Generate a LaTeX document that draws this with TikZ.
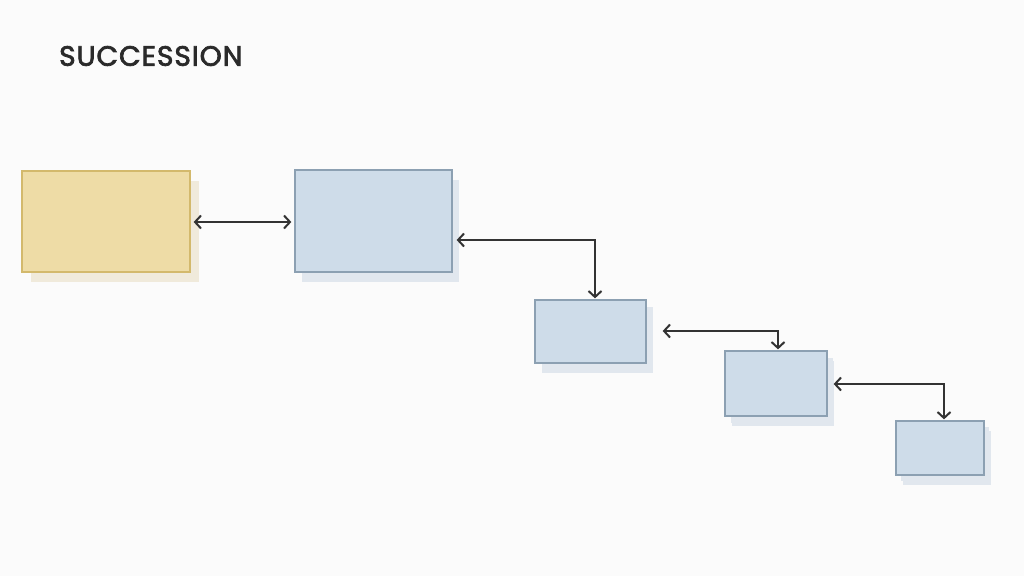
\documentclass[tikz,border=0pt]{standalone}
\usepackage{fontspec}
\setmainfont{Poppins}
\newfontfamily\titlefont{Poppins}[FakeBold=2.5, LetterSpace=3.5]
\usetikzlibrary{arrows.meta,shadows,calc}
\definecolor{bg}{HTML}{FBFBFB}
\definecolor{yfill}{HTML}{EEDCA6}
\definecolor{ydraw}{HTML}{D3B96C}
\definecolor{yshadow}{HTML}{F0EADB}
\definecolor{bfill}{HTML}{CEDCE9}
\definecolor{bdraw}{HTML}{8CA0B2}
\definecolor{bshadow}{HTML}{E1E7EE}
\definecolor{ink}{HTML}{333333}
\definecolor{titlec}{HTML}{2A2A2A}
\tikzset{
  ybox/.style={draw=ydraw, fill=yfill, line width=1.3pt, inner sep=0pt,
    drop shadow={shadow xshift=9pt, shadow yshift=-10pt, fill=yshadow, opacity=1}},
  bbox/.style={draw=bdraw, fill=bfill, line width=1.3pt, inner sep=0pt,
    drop shadow={shadow xshift=7pt, shadow yshift=-10pt, fill=bshadow, opacity=1}},
  conn/.style={draw=ink, line width=2pt,
    arrows={Straight Barb[length=6pt,width=13pt,line width=2pt]-Straight Barb[length=6pt,width=13pt,line width=2pt]}}
}
\begin{document}
\begin{tikzpicture}[x=1pt,y=-1pt]
\fill[bg] (0,0) rectangle (1024,576);
\useasboundingbox (0,0) rectangle (1024,576);
\node[anchor=west, text=titlec, font=\titlefont\fontsize{28}{33}\selectfont, inner sep=0pt] (title) at (59,56) {SUCCESSION};
\node[ybox, minimum width=168pt, minimum height=101pt] (A) at (106,221.5) {};
\node[bbox, minimum width=157pt, minimum height=102pt] (B) at (373.5,221) {};
\node[bbox, minimum width=111pt, minimum height=63pt, drop shadow={shadow xshift=7pt, shadow yshift=-7pt, fill=bshadow, opacity=1}] (C) at (590.5,331.5) {};
\node[bbox, minimum width=102pt, minimum height=65pt, drop shadow={shadow xshift=6pt, shadow yshift=-7pt, fill=bshadow, opacity=1}] (D) at (776,383.5) {};
\node[bbox, minimum width=88pt, minimum height=54pt, drop shadow={shadow xshift=5pt, shadow yshift=-6pt, fill=bshadow, opacity=1}] (E) at (940,448) {};
\coordinate (bc) at (595,240);
\coordinate (cd) at (778,331);
\coordinate (de) at (944,384);
\draw[conn, shorten <=3pt, shorten >=3pt] (A.east |- 0,222) -- (B.west |- 0,222);
\draw[conn, shorten <=4pt, shorten >=1pt] (B.east |- bc) -- (bc) -- (C.north -| bc);
\draw[conn, shorten <=16pt, shorten >=1pt] (C.east |- cd) -- (cd) -- (D.north -| cd);
\draw[conn, shorten <=6pt, shorten >=1pt] (D.east |- de) -- (de) -- (E.north -| de);
\end{tikzpicture}
\end{document}
